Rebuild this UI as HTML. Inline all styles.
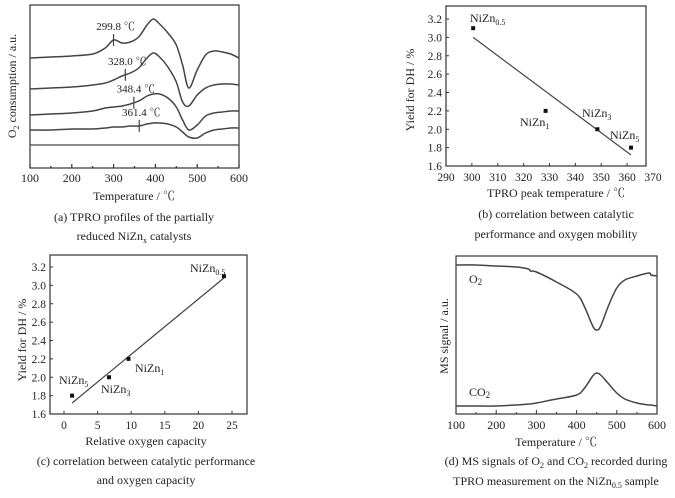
<!DOCTYPE html>
<html><head><meta charset="utf-8"><style>
html,body{margin:0;padding:0;background:#fff;}
svg{display:block;font-family:"Liberation Serif","Noto Serif CJK SC",serif;}
text{fill:#222;}
</style></head><body>
<svg id="s" width="675" height="498" viewBox="0 0 675 498" xmlns="http://www.w3.org/2000/svg"></svg>
<script>
// Panel (a) data
const aTemps=[100,150,200,250,280,300,320,340,360,380,395,410,430,450,465,480,500,520,540,560,580,600];
const aCurve1=[110,111,112,114,120,128,125,126,131,143,149,144,135,123,103,80,98,113,117,116,114,110];
const aCurve2=[79,80,81,83,85,88,92,95,100,110,115,111,101,86,66,62,73,80,83,84,84,83];
const aCurve3=[53,54,55,57,60,61,62,64,67,72,74,74,70,61,48,38,43,52,55,56,57,57];
const aCurve4=[38,38,39,39,40,41,41,42,42,44,45,45,44,41,36,31,30,35,38,39,40,40];
const aPeakTemps=[299.8,328.0,348.4,361.4];
const aPeakLabels=["299.8 ℃","328.0 ℃","348.4 ℃","361.4 ℃"];
const aBaseline=23;
const aTicks=[100,200,300,400,500,600];
// Panel (b) data
const bX=[300.5,328.5,348.5,361.5];
const bY=[3.1,2.2,2.0,1.8];
const bFitX=[300.5,361.5];
const bFitY=[3.0,1.72];
const bXTicks=[290,300,310,320,330,340,350,360,370];
const yTicks=[1.6,1.8,2.0,2.2,2.4,2.6,2.8,3.0,3.2];
// Panel (c) data
const cX=[1.2,6.7,9.6,23.8];
const cY=[1.8,2.0,2.2,3.1];
const cFitX=[1.2,23.8];
const cFitY=[1.72,3.08];
const cXTicks=[0,5,10,15,20,25];
// Panel (d) data
const dTemps=[100,150,200,250,280,285,300,350,400,420,440,450,460,480,500,520,550,580,585,600];
const dO2=[149,149,148,147,145,143,142,132,120,107,88,84,88,109,126,134,138,141,139,138];
const dCO2=[8,8,8,9,10,10,11,15,19,26,38,41,39,30,21,15,11,9,9,8];

const S=document.getElementById('s');
const NS='http://www.w3.org/2000/svg';
function el(tag,attrs,parent){const e=document.createElementNS(NS,tag);for(const k in attrs)e.setAttribute(k,attrs[k]);(parent||S).appendChild(e);return e;}
function lin(d0,d1,r0,r1){return v=>r0+(v-d0)*(r1-r0)/(d1-d0);}
function txt(x,y,s,size,anchor,parent,name){const t=el('text',{x:x,y:y,'font-size':size,'text-anchor':anchor||'middle'},parent);t.innerHTML=s;


return t;}
function frame(x0,y0,x1,y1,name){const r=el('rect',{x:x0,y:y0,width:x1-x0,height:y1-y0,fill:'none',stroke:'#333','stroke-width':1.2});

}
function path(xs,ys,fx,fy,name,w,smooth){
const P=xs.map((v,i)=>[fx(v),fy(ys[i])]);
let d='M'+P[0][0].toFixed(1)+' '+P[0][1].toFixed(1);
for(let i=1;i<P.length;i++){
 if(!smooth){d+='L'+P[i][0].toFixed(1)+' '+P[i][1].toFixed(1);continue;}
 const p0=P[Math.max(0,i-2)],p1=P[i-1],p2=P[i],p3=P[Math.min(P.length-1,i+1)];
 const c1=[p1[0]+(p2[0]-p0[0])/6,p1[1]+(p2[1]-p0[1])/6],c2=[p2[0]-(p3[0]-p1[0])/6,p2[1]-(p3[1]-p1[1])/6];
 d+='C'+c1[0].toFixed(1)+' '+c1[1].toFixed(1)+' '+c2[0].toFixed(1)+' '+c2[1].toFixed(1)+' '+p2[0].toFixed(1)+' '+p2[1].toFixed(1);}
const p=el('path',{d:d,fill:'none',stroke:'#444','stroke-width':w||1.5,'stroke-linejoin':'round'});

}

// ---------- (a)
const ax=lin(100,600,30,239), ay=lin(0,163,168,5);
frame(30,5,239,168,'plot-a-frame');
[aCurve1,aCurve2,aCurve3,aCurve4].forEach((c,i)=>path(aTemps,c,ax,ay,'tpro-curve-'+(i+1),1.5,true));
const bl=el('line',{x1:30,x2:239,y1:ay(aBaseline),y2:ay(aBaseline),stroke:'#444','stroke-width':1.3});


const curves=[aCurve1,aCurve2,aCurve3,aCurve4];
function interp(xs,ys,x){for(let i=1;i<xs.length;i++)if(x<=xs[i]){const t=(x-xs[i-1])/(xs[i]-xs[i-1]);return ys[i-1]+t*(ys[i]-ys[i-1]);}return ys[ys.length-1];}
aPeakTemps.forEach((t,i)=>{const v=interp(aTemps,curves[i],t);const m=el('line',{x1:ax(t),x2:ax(t),y1:ay(v)-6,y2:ay(v)+6,stroke:'#444','stroke-width':1.2});


txt(ax(t)+2,ay(v)-10,aPeakLabels[i],11,'middle',null,'peak-label');});
for(let t=100;t<=600;t+=50){const l=el('line',{x1:ax(t),x2:ax(t),y1:168,y2:t%100?166:164,stroke:'#333','stroke-width':1.2});

}
aTicks.forEach(t=>txt(ax(t),182,t,12,'middle',null,'x-tick-label'));
txt(134,200,'Temperature / ℃',12,'middle',null,'x-axis-title');
const ya=txt(0,0,'O<tspan font-size="8" dy="3">2</tspan><tspan dy="-3"> consumption / a.u.</tspan>',12,'middle',null,'y-axis-title');
ya.setAttribute('transform','translate(16,86) rotate(-90)');
txt(134,221,'(a) TPRO profiles of the partially',12,'middle',null,'caption-a');
txt(134,240,'reduced NiZn<tspan font-size="8" dy="3">x</tspan><tspan dy="-3"> catalysts</tspan>',12,'middle',null,'caption-a');

function scatter(xs,ys,fx,fy,names){xs.forEach((v,i)=>{const r=el('rect',{x:fx(v)-2,y:fy(ys[i])-2,width:4,height:4,fill:'#111'});

});}
function yaxis(fy,x0){yTicks.forEach(v=>{const l=el('line',{x1:x0,x2:x0+3,y1:fy(v),y2:fy(v),stroke:'#333'});


txt(x0-4,fy(v)+4,v.toFixed(1),11.5,'end',null,'y-tick-label');});}
const nz=s=>'NiZn<tspan font-size="8" dy="3">'+s+'</tspan>';

// ---------- (b)
const bx=lin(290,370,446,653), by=lin(1.6,3.2,166,19);
frame(446,6,646,166,'plot-b-frame');
yaxis(by,446);
bXTicks.forEach(v=>{if(bx(v)<=647){const l=el('line',{x1:bx(v),x2:bx(v),y1:166,y2:163,stroke:'#333'});

}
txt(bx(v),181,v,11.5,'middle',null,'x-tick-label');});
path(bFitX,bFitY,bx,by,'fit-line-b',1.2);
scatter(bX,bY,bx,by,['nizn05','nizn1','nizn3','nizn5']);
txt(470,22,nz('0.5'),12,'start',null,'label-nizn05');
txt(520,126,nz('1'),12,'start',null,'label-nizn1');
txt(582,117,nz('3'),12,'start',null,'label-nizn3');
txt(610,139,nz('5'),12,'start',null,'label-nizn5');
txt(556,197,'TPRO peak temperature / ℃',12,'middle',null,'x-axis-title');
const yb=txt(0,0,'Yield for DH / %',12,'middle',null,'y-axis-title');
yb.setAttribute('transform','translate(414,90) rotate(-90)');
txt(556,218,'(b) correlation between catalytic',12,'middle',null,'caption-b');
txt(556,238,'performance and oxygen mobility',12,'middle',null,'caption-b');

// ---------- (c)
const cx=lin(0,25,64,232), cy=lin(1.6,3.2,414,267);
frame(50,255,247,414,'plot-c-frame');
yaxis(cy,50);
cXTicks.forEach(v=>{const l=el('line',{x1:cx(v),x2:cx(v),y1:414,y2:411,stroke:'#333'});


txt(cx(v),429,v,11.5,'middle',null,'x-tick-label');});
path(cFitX,cFitY,cx,cy,'fit-line-c',1.2);
scatter(cX,cY,cx,cy,['nizn5','nizn3','nizn1','nizn05']);
txt(190,272,nz('0.5'),12,'start',null,'label-nizn05');
txt(135,372,nz('1'),12,'start',null,'label-nizn1');
txt(101,393,nz('3'),12,'start',null,'label-nizn3');
txt(59,384,nz('5'),12,'start',null,'label-nizn5');
txt(146,445,'Relative oxygen capacity',12,'middle',null,'x-axis-title');
const yc=txt(0,0,'Yield for DH / %',12,'middle',null,'y-axis-title');
yc.setAttribute('transform','translate(26,340) rotate(-90)');
txt(146,465,'(c) correlation between catalytic performance',12,'middle',null,'caption-c');
txt(146,484,'and oxygen capacity',12,'middle',null,'caption-c');

// ---------- (d)
const dx=lin(100,600,456,657), dy=lin(0,158,414,256);
frame(456,256,657,414,'plot-d-frame');
path(dTemps,dO2,dx,dy,'o2-signal',1.5,true);
path(dTemps,dCO2,dx,dy,'co2-signal',1.5,true);
for(let t=100;t<=600;t+=50){const l=el('line',{x1:dx(t),x2:dx(t),y1:414,y2:t%100?412:410,stroke:'#333'});

}
aTicks.forEach(t=>txt(dx(t),429,t,12,'middle',null,'x-tick-label'));
txt(469,283,'O<tspan font-size="9" dy="2">2</tspan>',12,'start',null,'o2-label');
txt(469,396,'CO<tspan font-size="9" dy="2">2</tspan>',12,'start',null,'co2-label');
txt(556,446,'Temperature / ℃',12,'middle',null,'x-axis-title');
const yd=txt(0,0,'MS signal / a.u.',12,'middle',null,'y-axis-title');
yd.setAttribute('transform','translate(448,336) rotate(-90)');
txt(556,465,'(d) MS signals of O<tspan font-size="8" dy="3">2</tspan><tspan dy="-3"> and CO</tspan><tspan font-size="8" dy="3">2</tspan><tspan dy="-3"> recorded during</tspan>',12,'middle',null,'caption-d');
txt(556,485,'TPRO measurement on the NiZn<tspan font-size="8" dy="3">0.5</tspan><tspan dy="-3"> sample</tspan>',12,'middle',null,'caption-d');
</script>
</body></html>
